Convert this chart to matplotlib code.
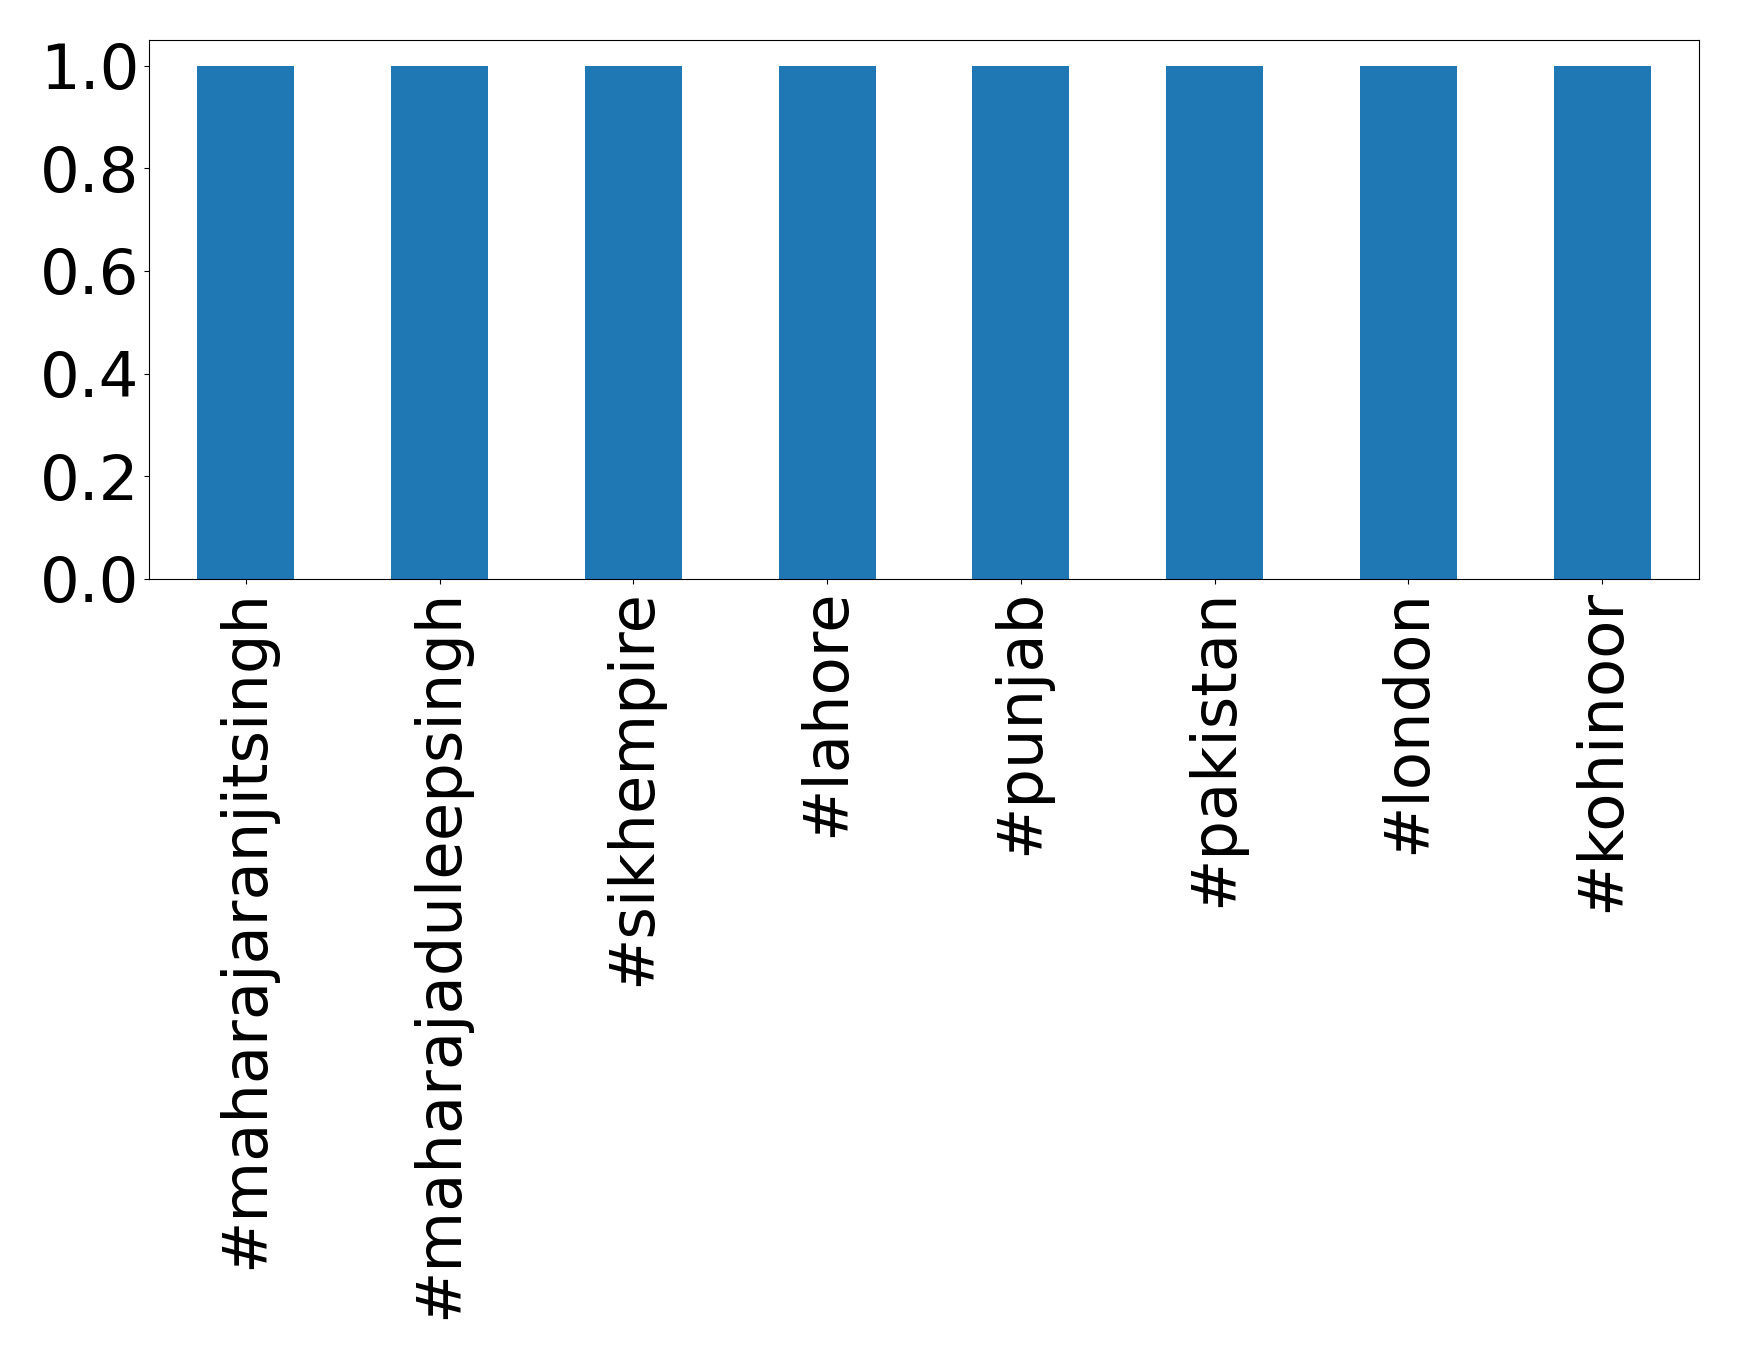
import matplotlib
matplotlib.use('Agg')
import matplotlib.pyplot as plt

hashtags = ['#maharajaranjitsingh', '#maharajaduleepsingh', '#sikhempire',
            '#lahore', '#punjab', '#pakistan', '#london', '#kohinoor']
counts = [1, 1, 1, 1, 1, 1, 1, 1]
yticks = [0.0, 0.2, 0.4, 0.6, 0.8, 1.0]

fig = plt.figure(figsize=(17.39, 13.59), dpi=100)
ax = fig.add_axes([0.0857, 0.574, 0.8913, 0.3966])
ax.bar(range(len(hashtags)), counts, width=0.5, color='#1f77b4')
ax.set_xlim(-0.5, len(hashtags) - 0.5)
ax.set_xticks(range(len(hashtags)))
ax.set_xticklabels(hashtags, rotation=90)
ax.set_yticks(yticks)
ax.tick_params(labelsize=45)

fig.savefig('out.png', dpi=100)
